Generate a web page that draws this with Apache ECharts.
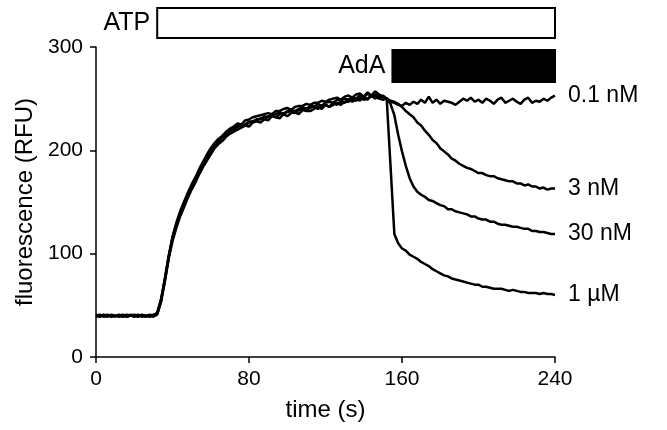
<!DOCTYPE html>
<html>
<head>
<meta charset="utf-8">
<script src="https://cdn.jsdelivr.net/npm/echarts@6/dist/echarts.min.js"></script>
<style>html,body{margin:0;padding:0;background:#fff}#c{width:667px;height:430px}</style>
</head>
<body>
<div id="c"></div>
<script>
// sampling every 2 s from 0 to 240 s
const sampleStep = 2;

const seriesNames = ['0.1 nM', '3 nM', '30 nM', '1 µM'];

const s01 = [41,40,40,39,41,40,40,39,40,41,40,39,40,40,41,40,
43,56,75,97,115,128,139,149,157,165,173,180,187,194,200,205,208,213,215,219,220,223,225,224,227,228,229,231,230,233,234,232,235,236,237,238,236,239,240,239,241,243,240,243,244,242,246,244,247,246,249,247,250,248,252,249,253,250,254,251,
250,247,246,244,243,246,244,247,245,249,246,252,246,249,245,248,247,246,244,247,250,248,251,247,249,246,250,248,245,249,251,246,248,250,247,245,249,251,246,248,247,250,248,251,253];

const s3 = [40,41,39,40,40,39,41,40,39,40,41,40,40,39,40,41,
42,54,73,95,112,125,136,145,154,162,169,177,184,190,196,202,206,209,213,216,218,220,222,224,223,227,228,227,230,229,233,232,231,235,233,236,237,235,239,238,238,240,242,240,244,242,244,246,244,247,247,249,248,251,249,250,253,252,250,249,
250,248,247,245,242,238,235,232,227,224,219,215,210,207,202,199,196,192,190,187,185,183,182,180,178,178,176,175,175,173,172,171,170,170,168,168,166,167,165,165,163,164,162,163,163];

const s30 = [39,40,41,40,39,40,40,41,39,40,40,41,39,40,40,39,
41,53,74,96,116,130,141,150,159,167,174,182,189,196,202,207,211,214,218,221,223,226,225,229,230,232,233,234,235,236,235,238,238,240,241,239,242,243,243,245,244,246,246,248,247,249,250,251,249,252,253,251,254,255,252,256,253,257,254,252,
250,245,234,215,199,185,173,165,160,157,155,152,151,149,147,146,143,143,141,140,139,138,136,136,134,133,133,131,131,129,128,128,127,126,126,125,124,124,122,122,121,121,120,119,119];

const s1u = [40,39,40,41,40,40,39,40,41,40,39,40,41,40,39,40,
42,55,76,98,116,128,139,149,157,164,173,180,188,194,200,204,209,213,215,218,221,223,224,225,228,228,230,230,233,232,234,235,237,235,238,239,238,240,242,240,243,242,245,243,246,247,246,249,248,250,249,251,250,253,251,255,252,254,251,253,
250,185,119,110,105,103,99,97,95,92,90,88,85,83,81,79,78,76,75,74,73,72,71,70,70,68,68,67,66,66,66,65,64,65,64,63,63,62,62,62,61,62,61,61,60];

const xTicks = [0, 80, 160, 240];
const yTicks = [0, 100, 200, 300];

// stimulus bars (time in s)
const stimNames = ['ATP', 'AdA'];
const stimStart = [32, 155];
const stimEnd = [240, 240];

const FONT = '"Liberation Sans", Arial, Helvetica, sans-serif';

function pairs(vals) {
  return vals.map((v, i) => [i * sampleStep, v]);
}

const allSeries = [s01, s3, s30, s1u];

const chart = echarts.init(document.getElementById('c'), null, {renderer: 'canvas'});

const stimPix = [[8, 38], [50, 82]];   // pixel top/bottom of each bar
const stimFill = ['#ffffff', '#000000'];

const option = {
  animation: false,
  textStyle: {fontFamily: FONT},
  grid: {left: 96, right: 112, top: 47, bottom: 73, containLabel: false},
  xAxis: {
    type: 'value', min: 0, max: 240, interval: 80,
    name: 'time (s)', nameLocation: 'middle', nameGap: 41,
    nameTextStyle: {fontSize: 24, color: '#000', fontFamily: FONT},
    axisLine: {lineStyle: {color: '#000', width: 1.5}},
    axisTick: {show: true, length: 6, lineStyle: {color: '#000', width: 1.5}},
    axisLabel: {fontSize: 21, color: '#000', margin: 12, fontFamily: FONT},
    splitLine: {show: false}
  },
  yAxis: {
    type: 'value', min: 0, max: 300, interval: 100,
    name: 'fluorescence (RFU)', nameLocation: 'middle', nameGap: 57,
    nameTextStyle: {fontSize: 24, color: '#000', fontFamily: FONT},
    axisLine: {show: true, lineStyle: {color: '#000', width: 1.5}},
    axisTick: {show: true, length: 6, lineStyle: {color: '#000', width: 1.5}},
    axisLabel: {fontSize: 21, color: '#000', margin: 13, fontFamily: FONT},
    splitLine: {show: false}
  },
  series: allSeries.map((vals, k) => ({
    name: seriesNames[k],
    type: 'line',
    data: pairs(vals),
    showSymbol: false,
    symbol: 'none',
    clip: false,
    lineStyle: {color: '#000', width: 2.5},
    z: 3,
    endLabel: {
      show: true, formatter: seriesNames[k], distance: 13,
      fontSize: 23, color: '#000', fontFamily: FONT
    }
  })).concat([{
    type: 'custom',
    coordinateSystem: 'cartesian2d',
    clip: false,
    silent: true,
    encode: {x: [0, 1], y: 2},
    data: stimNames.map((n, i) => [stimStart[i], stimEnd[i], 0]),
    renderItem: function (params, api) {
      const i = params.dataIndex;
      const x0 = api.coord([api.value(0), 0])[0];
      const x1 = api.coord([api.value(1), 0])[0];
      const y0 = stimPix[i][0], y1 = stimPix[i][1];
      return {
        type: 'group',
        children: [
          {type: 'rect', shape: {x: x0, y: y0, width: x1 - x0, height: y1 - y0},
           style: {fill: stimFill[i], stroke: '#000', lineWidth: 2}},
          {type: 'text', style: {text: stimNames[i], x: x0 - 7, y: (y0 + y1) / 2,
            align: 'right', verticalAlign: 'middle', fontSize: 25, fill: '#000', fontFamily: FONT}}
        ]
      };
    }
  }])
};
chart.setOption(option);
</script>
</body>
</html>
